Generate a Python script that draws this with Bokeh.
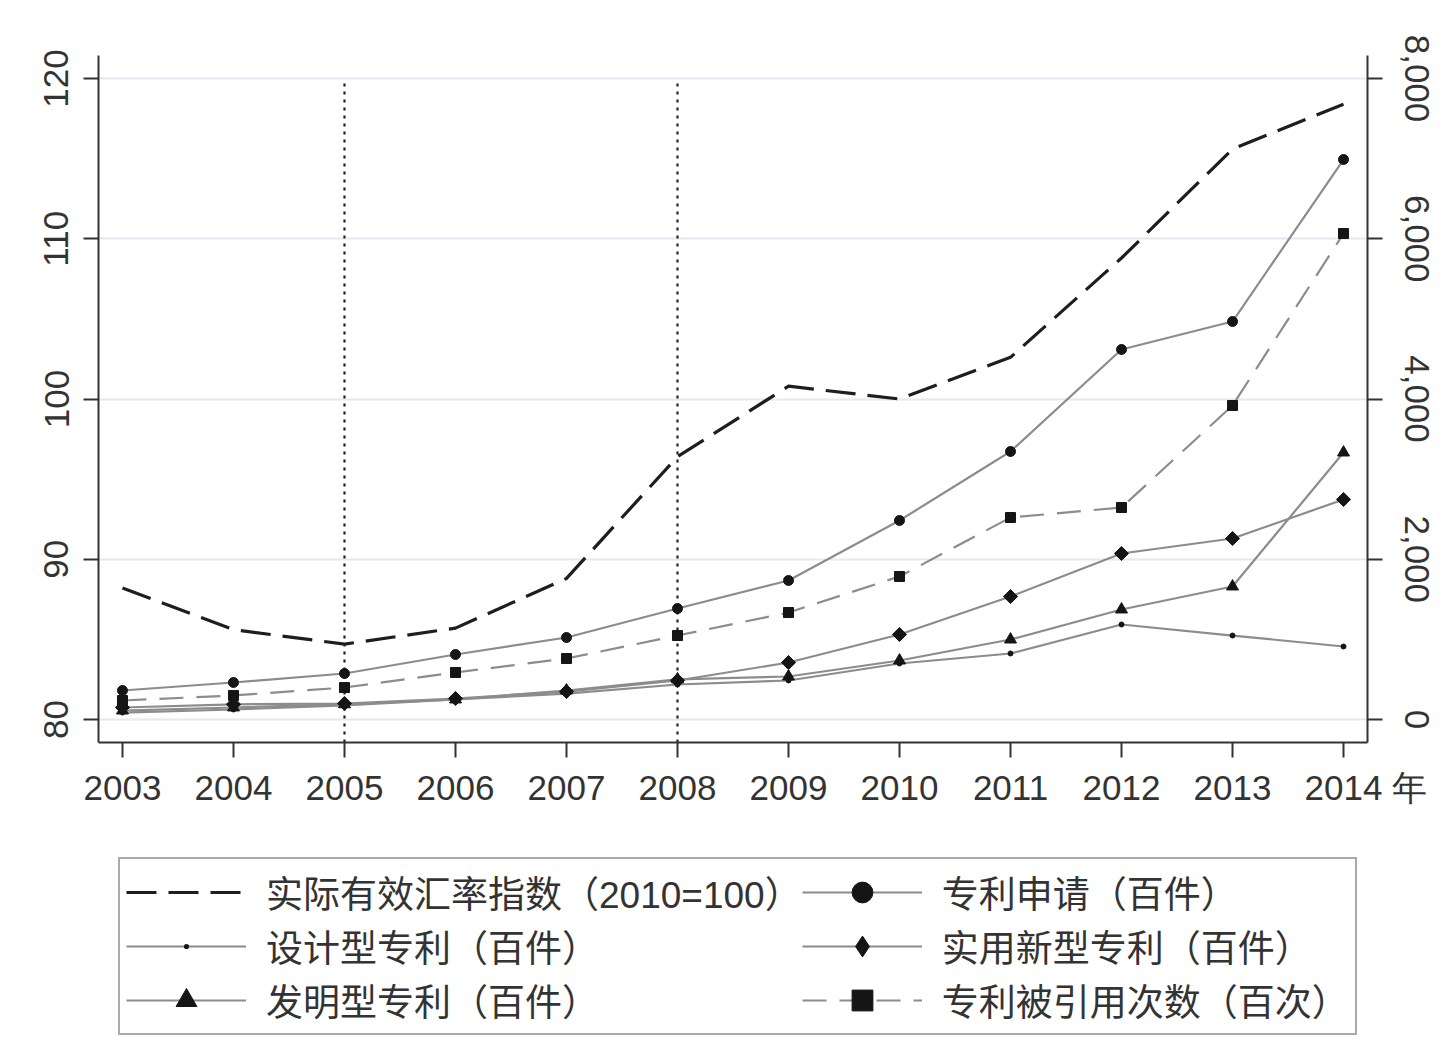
import math
from bokeh.plotting import figure
from bokeh.layouts import column
from bokeh.models import (Range1d, LinearAxis, Legend, LegendItem,
                          FixedTicker, NumeralTickFormatter)
from bokeh.embed import file_html
from bokeh.resources import INLINE

years = [2003, 2004, 2005, 2006, 2007, 2008, 2009, 2010, 2011, 2012, 2013, 2014]
reer = [88.2, 85.6, 84.7, 85.7, 88.8, 96.4, 100.8, 100.0, 102.6, 108.8, 115.6, 118.4]
applications = [362, 462, 574, 811, 1023, 1385, 1735, 2484, 3345, 4618, 4967, 6989]
design = [87, 125, 175, 250, 324, 437, 487, 699, 824, 1186, 1048, 911]
utility = [150, 190, 200, 262, 349, 487, 711, 1061, 1535, 2072, 2259, 2746]
invention = [112, 150, 190, 250, 362, 500, 537, 736, 998, 1373, 1660, 3332]
citations = [237, 300, 399, 587, 761, 1048, 1335, 1785, 2521, 2646, 3919, 6065]
left_ticks = [80, 90, 100, 110, 120]
right_ticks = [0, 2000, 4000, 6000, 8000]
vline_years = [2005, 2008]
year_unit = "年"

labels = ["实际有效汇率指数（2010=100）", "专利申请（百件）", "设计型专利（百件）",
          "实用新型专利（百件）", "发明型专利（百件）", "专利被引用次数（百次）"]

TXT = "#333333"
GRAY = "#8c8c8c"
MK = "#151515"
NUMFONT = "Liberation Sans"
LEGFONT = "Liberation Sans, Noto Sans CJK SC"

y_lo, y_hi = 78.56, 121.44
p = figure(frame_width=1269, frame_height=687,
           min_border_left=98, min_border_right=80, min_border_top=55, min_border_bottom=80,
           x_range=Range1d(2002.784, 2014.216), y_range=Range1d(y_lo, y_hi),
           output_backend="svg", toolbar_location=None)
p.extra_y_ranges = {"pat": Range1d(-287, 8287)}
p.outline_line_color = None
p.background_fill_color = "white"
p.border_fill_color = "white"

# axes
p.xaxis.ticker = FixedTicker(ticks=years)
# last tick carries the unit "年"; padded on the left so "2014" stays centred on its tick
p.xaxis.major_label_overrides = {years[-1]: "\u3000\u00a0" + str(years[-1]) + "\u00a0" + year_unit}
p.yaxis.ticker = FixedTicker(ticks=left_ticks)
for ax in [p.xaxis[0], p.yaxis[0]]:
    ax.major_label_text_font = NUMFONT
    ax.major_label_text_font_size = "35px"
    ax.major_label_text_color = TXT
    ax.axis_line_color = "#333333"
    ax.axis_line_width = 2
    ax.major_tick_line_color = "#333333"
    ax.major_tick_line_width = 2
    ax.major_tick_out = 15
    ax.major_tick_in = 0
    ax.minor_tick_line_color = None
p.xaxis.major_label_standoff = 10
p.yaxis.major_label_orientation = "vertical"
p.yaxis.major_label_standoff = 15

ax_r = LinearAxis(y_range_name="pat", ticker=FixedTicker(ticks=right_ticks),
                  formatter=NumeralTickFormatter(format="0,0"))
ax_r.major_label_text_font = NUMFONT
ax_r.major_label_text_font_size = "35px"
ax_r.major_label_text_color = TXT
ax_r.axis_line_color = "#333333"
ax_r.axis_line_width = 2
ax_r.major_tick_line_color = "#333333"
ax_r.major_tick_line_width = 2
ax_r.major_tick_out = 15
ax_r.major_tick_in = 0
ax_r.minor_tick_line_color = None
ax_r.major_label_orientation = "vertical"
ax_r.major_label_standoff = 22
p.add_layout(ax_r, "right")

p.xgrid.visible = False
p.ygrid.grid_line_color = "#e6e8f4"
p.ygrid.grid_line_width = 2

# vertical dotted lines
p.segment(x0=vline_years, y0=[y_lo] * 2, x1=vline_years, y1=[119.7] * 2,
          line_color="#222222", line_width=2.2, line_dash="3 5")

REER_STYLE = dict(line_color="#1e1e1e", line_width=3.2, line_dash="30 12")
p.line(years, reer, **REER_STYLE)

specs = [  # (values, marker, size, dash, angle)
    (design, "circle", 5, "solid", 0.0),
    (invention, "triangle", 12, "solid", 0.0),
    (utility, "square", 10, "solid", math.pi / 4),
    (citations, "square", 10, "24 13", 0.0),
    (applications, "circle", 10, "solid", 0.0),
]
for vals, marker, size, dash, angle in specs:
    p.line(years, vals, y_range_name="pat", line_color=GRAY, line_width=2.2, line_dash=dash)
    p.scatter(years, vals, y_range_name="pat", marker=marker, size=size, angle=angle,
              fill_color=MK, line_color=MK)

# ---- legend panel: a second figure under the chart whose series (same data, same
# styles) lie outside its visible range, so only the legend shows ----
W = 98 + 1269 + 80
q = figure(width=W, height=215, min_border=0, x_range=Range1d(0, 1), y_range=Range1d(0, 1),
           x_axis_type=None, y_axis_type=None, output_backend="svg", toolbar_location=None)
q.outline_line_color = None
q.grid.visible = False
q.background_fill_color = "white"
q.border_fill_color = "white"

def sample(vals, marker, size, dash="solid"):
    l = q.line(years, vals, line_color=GRAY, line_width=2.2, line_dash=dash)
    s = q.scatter(years, vals, marker=marker, size=size, fill_color=MK, line_color=MK)
    return [l, s]

lg_reer = [q.line(years, reer, **REER_STYLE)]
lg_app = sample(applications, "circle", 10)
lg_design = sample(design, "dot", 5)
lg_util = sample(utility, "diamond", 10)
lg_inv = sample(invention, "triangle", 12)
lg_cit = sample(citations, "square", 10, dash="24 13")

items = [
    LegendItem(label=labels[0], renderers=lg_reer),
    LegendItem(label=labels[1], renderers=lg_app),
    LegendItem(label=labels[2], renderers=lg_design),
    LegendItem(label=labels[3], renderers=lg_util),
    LegendItem(label=labels[4], renderers=lg_inv),
    LegendItem(label=labels[5], renderers=lg_cit),
]
legend = Legend(items=items, ncols=2, orientation="horizontal", location=(20, 2))
legend.label_text_font = LEGFONT
legend.label_text_font_size = "37px"
legend.label_text_color = TXT
legend.glyph_width = 120
legend.glyph_height = 52
legend.label_height = 52
legend.label_standoff = 20
legend.spacing = 0
legend.padding = 6
legend.margin = 0
legend.border_line_color = "#555555"
legend.border_line_width = 2.5
legend.background_fill_color = "white"
legend.background_fill_alpha = 1
q.add_layout(legend)

layout = column(p, q, spacing=0)
open("out.html", "w").write(file_html(layout, INLINE))
